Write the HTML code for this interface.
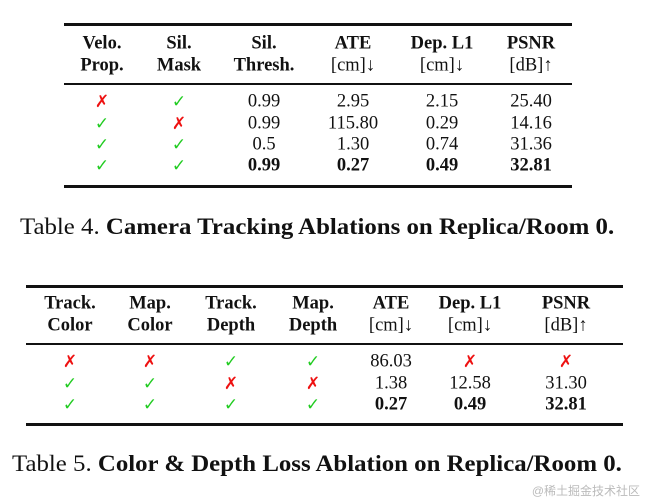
<!DOCTYPE html>
<html><head><meta charset="utf-8"><style>
body{margin:0;width:646px;height:503px;background:#fff;position:relative;overflow:hidden;font-family:"Liberation Serif",serif;color:#111}
.t{position:absolute;transform:translate(-50%,-50%);font-size:18.5px;white-space:nowrap}
.b{font-weight:bold}
.r{position:absolute;background:#111}
.x{color:#e11;font-family:"DejaVu Sans",sans-serif;font-size:17px}
.c{color:#2c2;font-family:"DejaVu Sans",sans-serif;font-size:17px}
.cap{position:absolute;font-size:23px;white-space:nowrap;transform-origin:0 0;transform:scaleX(1.08)}
</style></head><body>
<div id="t1"></div>
<div id="t2"></div>
<div class="cap" style="left:20px;top:214px">Table 4. <b>Camera Tracking Ablations on Replica/Room 0.</b></div>
<div class="cap" style="left:12px;top:451px">Table 5. <b>Color &amp; Depth Loss Ablation on Replica/Room 0.</b></div>
<div style="position:absolute;right:6px;top:482px;font-size:12px;color:#bbb;font-family:'Liberation Sans','Noto Sans CJK SC',sans-serif">@稀土掘金技术社区</div>
<script>
function build(id,cols,heads,rows,hy,ry,rules,x0,x1){
  const root=document.getElementById(id);
  rules.forEach((y,i)=>{const d=document.createElement('div');d.className='r';
    
    
    d.style.cssText=`left:${x0}px;width:${x1-x0}px;top:${y}px;height:${i==1?1.5:2.5}px`;root.appendChild(d);});
  heads.forEach((h,ci)=>h.forEach((s,li)=>{const d=document.createElement('div');
    d.className='t'+(s.bold?' b':'');d.textContent=s.t;
    
    
    d.style.left=cols[ci]+'px';d.style.top=hy[li]+'px';root.appendChild(d);}));
  rows.forEach((r,ri)=>r.forEach((v,ci)=>{const d=document.createElement('span');
    let cls='t';
    if(v==='x'){cls+=' x';d.textContent='✗';}else if(v==='c'){cls+=' c';d.textContent='✓';}
    else{d.textContent=v;if(ri==rows.length-1)cls+=' b';}
    d.className=cls;
    
    
    d.style.left=cols[ci]+'px';d.style.top=ry[ri]+'px';root.appendChild(d);}));
}
const B=t=>({t,bold:true}),N=t=>({t,bold:false});
build('t1',[102,179,264,353,442,531],
 [[B('Velo.'),B('Prop.')],[B('Sil.'),B('Mask')],[B('Sil.'),B('Thresh.')],[B('ATE'),N('[cm]↓')],[B('Dep. L1'),N('[cm]↓')],[B('PSNR'),N('[dB]↑')]],
 [['x','c','0.99','2.95','2.15','25.40'],['c','x','0.99','115.80','0.29','14.16'],['c','c','0.5','1.30','0.74','31.36'],['c','c','0.99','0.27','0.49','32.81']],
 [44,66],[102,124,145,166],[23,83,185],64,572);
build('t2',[70,150,231,313,391,470,566],
 [[B('Track.'),B('Color')],[B('Map.'),B('Color')],[B('Track.'),B('Depth')],[B('Map.'),B('Depth')],[B('ATE'),N('[cm]↓')],[B('Dep. L1'),N('[cm]↓')],[B('PSNR'),N('[dB]↑')]],
 [['x','x','c','c','86.03','x','x'],['c','c','x','x','1.38','12.58','31.30'],['c','c','c','c','0.27','0.49','32.81']],
 [304,326],[362,384,405],[285,343,423],26,623);
</script>
</body></html>
